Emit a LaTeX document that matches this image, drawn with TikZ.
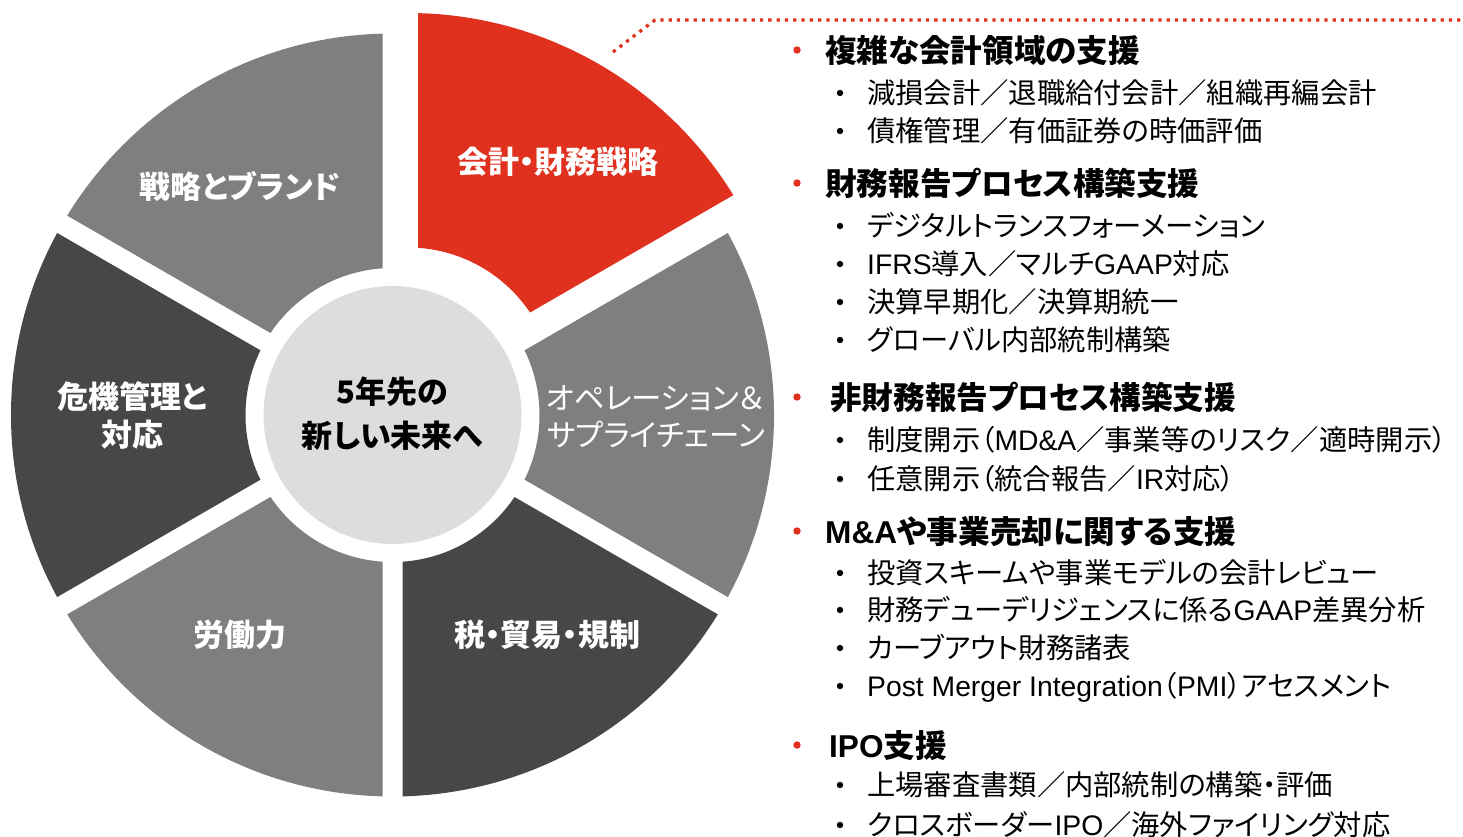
\documentclass[tikz,border=0pt]{standalone}
\usepackage{fontspec}
\setmainfont{Noto Sans CJK JP}[RawFeature=+palt]
\newfontfamily\latn{Liberation Sans}
\definecolor{pwcred}{HTML}{E0301E}
\definecolor{wheelmid}{HTML}{7F7F7F}
\definecolor{wheeldark}{HTML}{474747}
\definecolor{hubgray}{HTML}{DDDDDD}
\def\wcx{392.5}
\def\wcy{415}
\newcommand\wheelsector[4]{%
  \begin{scope}[shift={#4}]
    \clip (\wcx,\wcy) ++({(#1+#2)/2}:20) -- +(#1:600) -- +(#2:600) -- cycle;
    \fill[#3, even odd rule] (\wcx,\wcy) circle[radius=381.5] (\wcx,\wcy) circle[radius=147];
  \end{scope}}
\begin{document}
\begin{tikzpicture}[x=1pt,y=-1pt,
  seglabel/.style={inner sep=0pt, text=white, font=\fontsize{31}{36}\selectfont\bfseries, text height=27pt, text depth=3.4pt},
  seglabelreg/.style={inner sep=0pt, text=white, font=\fontsize{30.5}{35}\selectfont, text height=26.8pt, text depth=3.3pt},
  hubtext/.style={inner sep=0pt, text=black, font=\fontsize{31}{36}\selectfont\bfseries, text height=27pt, text depth=3.4pt},
  headitem/.style={anchor=west, inner sep=0pt, text=black, font=\fontsize{31.6}{38}\selectfont\bfseries, text height=27.8pt, text depth=3.6pt},
  subitem/.style={anchor=west, inner sep=0pt, text=black, font=\fontsize{28.3}{33}\selectfont, text height=24.7pt, text depth=3.2pt},
  headdot/.style={circle, fill=pwcred, inner sep=0pt, minimum size=7.4pt},
  subdot/.style={circle, fill=black, inner sep=0pt, minimum size=6.4pt},
  callout/.style={pwcred, line width=3.2pt, dash pattern=on 3.3pt off 5pt}
]
\useasboundingbox (0,0) rectangle (1463,836);
\coordinate (C) at (\wcx,\wcy);

% wheel segments (screen angles, clockwise)
\wheelsector{210}{270}{wheelmid}{(0,0)}
\wheelsector{150}{210}{wheeldark}{(0,0)}
\wheelsector{90}{150}{wheelmid}{(0,0)}
\wheelsector{30}{90}{wheeldark}{(0,0)}
\wheelsector{-30}{30}{wheelmid}{(0,0)}
\wheelsector{270}{330}{pwcred}{(15.5,-20.5)}

% hub
\node[circle, fill=hubgray, inner sep=0pt, minimum size=258pt] (hub) at (C) {};
\node[hubtext] (hubA) at (392.5,392) {5年先の};
\node[hubtext] (hubB) at (392.5,436) {新しい未来へ};

% segment labels
\node[seglabel] (lblStrategy) at (240,187) {戦略とブランド};
\node[seglabel] (lblFinance) at (558,162) {会計・財務戦略};
\node[seglabel] (lblRiskA) at (132,397) {危機管理と};
\node[seglabel] (lblRiskB) at (132,435) {対応};
\node[seglabelreg] (lblOpsA) at (655,398) {オペレーション＆};
\node[seglabelreg] (lblOpsB) at (656,435) {サプライチェーン};
\node[seglabel] (lblWork) at (240,635) {労働力};
\node[seglabel] (lblTax) at (547,635) {税・貿易・規制};

% callout line
\coordinate (callA) at (613,52);
\coordinate (callB) at (655,20);
\coordinate (callC) at (1463,20);
\draw[callout] (callA) -- (callB) -- (callC);

% list
\node[headdot] (d1) at (797,50) {};
\node[headitem] (h1) at (825,50) {複雑な会計領域の支援};
\node[subdot] (s1d) at (840,93) {};
\node[subitem] (s1) at (867,93) {減損会計／退職給付会計／組織再編会計};
\node[subdot] (s2d) at (840,131) {};
\node[subitem] (s2) at (867,131) {債権管理／有価証券の時価評価};

\node[headdot] (d2) at (797,183) {};
\node[headitem] (h2) at (825,183) {財務報告プロセス構築支援};
\node[subdot] (s3d) at (840,226) {};
\node[subitem] (s3) at (867,226) {デジタルトランスフォーメーション};
\node[subdot] (s4d) at (840,264) {};
\node[subitem] (s4) at (867,264) {{\latn IFRS}導入／マルチ{\latn GAAP}対応};
\node[subdot] (s5d) at (840,302) {};
\node[subitem] (s5) at (867,302) {決算早期化／決算期統一};
\node[subdot] (s6d) at (840,340) {};
\node[subitem] (s6) at (867,340) {グローバル内部統制構築};

\node[headdot] (d3) at (797,397) {};
\node[headitem] (h3) at (830,397) {非財務報告プロセス構築支援};
\node[subdot] (s7d) at (840,440) {};
\node[subitem] (s7) at (867,440) {制度開示（{\latn MD\&A}／事業等のリスク／適時開示）};
\node[subdot] (s8d) at (840,479) {};
\node[subitem] (s8) at (867,479) {任意開示（統合報告／{\latn IR}対応）};

\node[headdot] (d4) at (797,531) {};
\node[headitem] (h4) at (825,531) {{\latn M\&A}や事業売却に関する支援};
\node[subdot] (s9d) at (840,573) {};
\node[subitem] (s9) at (867,573) {投資スキームや事業モデルの会計レビュー};
\node[subdot] (s10d) at (840,610) {};
\node[subitem] (s10) at (867,610) {財務デューデリジェンスに係る{\latn GAAP}差異分析};
\node[subdot] (s11d) at (840,648) {};
\node[subitem] (s11) at (867,648) {カーブアウト財務諸表};
\node[subdot] (s12d) at (840,686) {};
\node[subitem] (s12) at (867,686) {{\latn Post Merger Integration}（{\latn PMI}）アセスメント};

\node[headdot] (d5) at (797,745) {};
\node[headitem] (h5) at (829,745) {{\latn IPO}支援};
\node[subdot] (s13d) at (840,785) {};
\node[subitem] (s13) at (867,785) {上場審査書類／内部統制の構築・評価};
\node[subdot] (s14d) at (840,825) {};
\node[subitem] (s14) at (867,825) {クロスボーダー{\latn IPO}／海外ファイリング対応};
\end{tikzpicture}
\end{document}
